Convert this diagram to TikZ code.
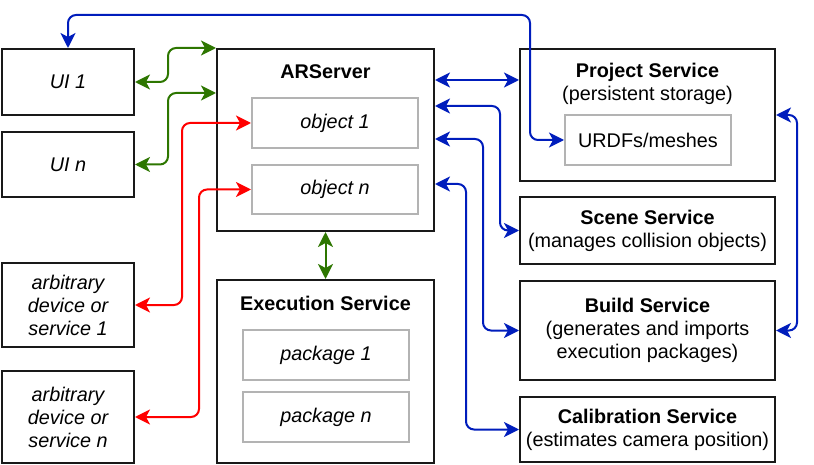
\documentclass[tikz,border=0pt]{standalone}
\usepackage{fontspec}
\setmainfont{Liberation Sans}
\usetikzlibrary{arrows.meta}

\definecolor{linkblue}{HTML}{001DBC}
\definecolor{linkgreen}{HTML}{2D7600}
\definecolor{linkred}{HTML}{FF0000}
\definecolor{innergray}{HTML}{B3B3B3}

\tikzset{
    box/.style={draw=black!90, line width=2pt, inner sep=0pt, align=center},
    inbox/.style={draw=innergray, line width=2pt, inner sep=0pt,
        minimum width=166pt, minimum height=50pt},
    link/.style={line width=2pt, rounded corners=8pt, <->},
}

\begin{document}
\begin{tikzpicture}[x=1pt, y=-1pt,
    every node/.style={font=\fontsize{19.8}{23}\selectfont},
    >={Stealth[length=15pt, width=15pt, inset=4pt]}]
    \useasboundingbox (0,0) rectangle (814,465);
    % Clients (left)
    \node[box, minimum width=132pt, minimum height=66pt] (ui1) at (68,82) {\itshape UI 1};
    \node[box, minimum width=132pt, minimum height=65pt] (uin) at (68,164.5) {\itshape UI n};
    \node[box, minimum width=132pt, minimum height=84pt] (dev1) at (68,305)
        {\itshape arbitrary\\\itshape device or\\\itshape service 1};
    \node[box, minimum width=132pt, minimum height=92pt] (devn) at (68,417)
        {\itshape arbitrary\\\itshape device or\\\itshape service n};
    % ARServer
    \node[box, minimum width=217pt, minimum height=182pt] (ars) at (325.5,140) {};
    \node[font=\fontsize{19.8}{23}\selectfont\bfseries] (arstitle) at (325.5,72) {ARServer};
    \node[inbox] (obj1) at (335,123) {\itshape object 1};
    \node[inbox, minimum height=49pt] (objn) at (335,189.5) {\itshape object n};
    % Execution Service
    \node[box, minimum width=217pt, minimum height=183pt] (exec) at (325.5,371.5) {};
    \node[font=\fontsize{19.8}{23}\selectfont\bfseries] (exectitle) at (325.5,303) {Execution Service};
    \node[inbox] (pkg1) at (326,355) {\itshape package 1};
    \node[inbox] (pkgn) at (326,417) {\itshape package n};
    % Services (right)
    \node[box, minimum width=255pt, minimum height=132pt] (proj) at (647.5,115) {};
    \node[align=center] (projtext) at (647.5,84)
        {\textbf{Project Service}\\(persistent storage)};
    \node[inbox] (urdf) at (648,140) {URDFs/meshes};
    \node[box, minimum width=255pt, minimum height=67pt] (scene) at (647.5,230.5)
        {\textbf{Scene Service}\\(manages collision objects)};
    \node[box, minimum width=255pt, minimum height=99pt] (build) at (647.5,330.5)
        {\textbf{Build Service}\\(generates and imports\\execution packages)};
    \node[box, minimum width=255pt, minimum height=65pt] (calib) at (647.5,429.5)
        {\textbf{Calibration Service}\\(estimates camera position)};
    % UI <-> ARServer
    \draw[link, linkgreen] (ui1.east) -- ++(33,0) |- (ars.north west);
    \draw[link, linkgreen] (uin.east) -- ++(33,0) |- ([yshift=-45pt]ars.north west);
    \draw[link, linkgreen] (ars.south) -- (exec.north);
    % objects <-> devices
    \draw[link, linkred] (obj1.west) -- ++(-69,0) |- (dev1.east);
    \draw[link, linkred] (objn.west) -- ++(-52,0) |- (devn.east);
    % ARServer <-> services
    \draw[link, linkblue] ([yshift=-32pt]ars.north east) -- ([yshift=-32pt]proj.north west);
    \foreach \dy/\dx/\tgt in {58/65/scene, 91/48/build, 136/31/calib}
        \draw[link, linkblue] ([yshift=-\dy pt]ars.north east) -- ++(\dx,0) |- (\tgt.west);
    \draw[link, linkblue] (proj.east) -- ++(21,0) |- (build.east);
    % URDFs -> UI
    \coordinate (topturn) at (530,15);
    \draw[link, linkblue] (ui1.north) |- (topturn) |- (urdf.west);
\end{tikzpicture}
\end{document}
